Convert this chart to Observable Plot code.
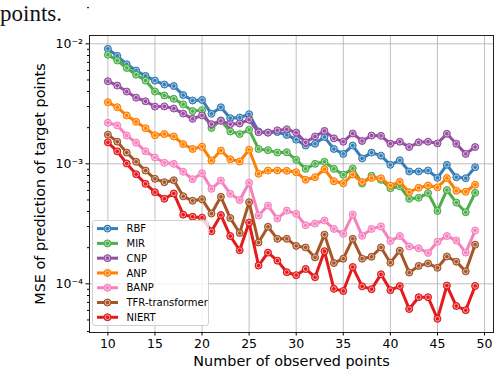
<!DOCTYPE html>
<html>
<head>
<meta charset="utf-8">
<script src="https://cdn.jsdelivr.net/npm/d3@7"></script>
<script src="https://cdn.jsdelivr.net/npm/@observablehq/plot@0.6"></script>
<style>
  html, body { margin: 0; padding: 0; background: #fff; }
  #wrap { position: relative; width: 496px; height: 370px; overflow: hidden; }
  #overlay { position: absolute; left: 0; top: 0; pointer-events: none; }
</style>
</head>
<body>
<div id="wrap"></div>
<script>
// ---- data ----
const observed = [10,11,12,13,14,15,16,17,18,19,20,21,22,23,24,25,26,27,28,29,30,31,32,33,34,35,36,37,38,39,40,41,42,43,44,45,46,47,48,49];

const RBF   = [9.08e-3,7.94e-3,6.75e-3,5.99e-3,5.40e-3,4.94e-3,4.58e-3,4.45e-3,3.74e-3,3.37e-3,3.41e-3,2.61e-3,2.96e-3,2.40e-3,2.43e-3,2.59e-3,1.86e-3,1.82e-3,1.84e-3,1.74e-3,1.59e-3,1.42e-3,1.47e-3,1.67e-3,1.33e-3,1.21e-3,1.42e-3,1.11e-3,1.24e-3,1.17e-3,9.81e-4,1.07e-3,8.63e-4,8.63e-4,8.79e-4,7.64e-4,9.81e-4,7.73e-4,7.59e-4,9.37e-4];
const MIR   = [8.11e-3,7.26e-3,6.29e-3,5.53e-3,4.94e-3,4.00e-3,3.71e-3,3.48e-3,3.13e-3,2.75e-3,2.80e-3,1.99e-3,2.30e-3,1.86e-3,1.77e-3,1.92e-3,1.33e-3,1.30e-3,1.24e-3,1.25e-3,1.08e-3,9.08e-4,1.00e-3,1.04e-3,9.08e-4,8.10e-4,9.14e-4,6.85e-4,7.95e-4,7.35e-4,6.26e-4,6.50e-4,5.11e-4,5.21e-4,5.70e-4,4.05e-4,6.05e-4,4.75e-4,3.95e-4,5.73e-4];
const CNP   = [4.88e-3,4.49e-3,4.00e-3,3.56e-3,3.32e-3,3.00e-3,3.01e-3,2.89e-3,2.62e-3,2.37e-3,2.53e-3,2.14e-3,2.28e-3,2.14e-3,2.17e-3,2.33e-3,1.83e-3,1.82e-3,1.90e-3,1.94e-3,1.82e-3,1.51e-3,1.69e-3,1.88e-3,1.63e-3,1.53e-3,1.79e-3,1.55e-3,1.72e-3,1.71e-3,1.47e-3,1.53e-3,1.38e-3,1.51e-3,1.53e-3,1.48e-3,1.78e-3,1.47e-3,1.21e-3,1.38e-3];
const ANP   = [3.26e-3,2.96e-3,2.53e-3,2.24e-3,1.98e-3,1.73e-3,1.77e-3,1.69e-3,1.46e-3,1.33e-3,1.39e-3,1.065e-3,1.29e-3,1.09e-3,1.045e-3,1.31e-3,8.26e-4,8.79e-4,8.79e-4,8.74e-4,8.51e-4,7.36e-4,7.73e-4,9.01e-4,7.15e-4,6.88e-4,8.15e-4,7.05e-4,7.62e-4,7.57e-4,6.59e-4,7.08e-4,5.80e-4,6.32e-4,6.59e-4,6.37e-4,7.62e-4,5.96e-4,5.85e-4,6.70e-4];
const BANP  = [2.20e-3,2.09e-3,1.72e-3,1.50e-3,1.27e-3,1.13e-3,1.02e-3,1.00e-3,8.59e-4,7.44e-4,8.34e-4,6.19e-4,7.26e-4,5.62e-4,4.99e-4,6.96e-4,3.71e-4,4.49e-4,3.50e-4,4.08e-4,3.83e-4,3.08e-4,3.18e-4,3.37e-4,2.87e-4,2.61e-4,3.79e-4,2.51e-4,2.87e-4,3.01e-4,2.27e-4,2.50e-4,2.05e-4,1.98e-4,1.81e-4,2.24e-4,2.50e-4,2.30e-4,1.82e-4,2.78e-4];
const TFR   = [1.75e-3,1.53e-3,1.24e-3,1.04e-3,8.79e-4,7.50e-4,7.03e-4,7.30e-4,5.36e-4,4.92e-4,5.07e-4,3.85e-4,5.31e-4,3.53e-4,2.65e-4,4.79e-4,2.21e-4,2.99e-4,2.37e-4,2.37e-4,2.07e-4,2.01e-4,1.66e-4,2.57e-4,1.49e-4,1.62e-4,2.37e-4,1.62e-4,1.68e-4,2.01e-4,1.50e-4,1.89e-4,1.24e-4,1.41e-4,1.48e-4,1.36e-4,1.69e-4,1.53e-4,1.27e-4,2.12e-4];
const NIERT = [1.51e-3,1.27e-3,1.006e-3,8.19e-4,6.81e-4,5.80e-4,5.11e-4,5.66e-4,3.77e-4,3.62e-4,3.56e-4,2.74e-4,3.74e-4,2.50e-4,1.905e-4,3.24e-4,1.42e-4,1.82e-4,1.56e-4,1.25e-4,1.18e-4,1.33e-4,1.135e-4,1.87e-4,9.08e-5,8.71e-5,1.38e-4,9.53e-5,9.03e-5,1.20e-4,8.86e-5,9.57e-5,6.17e-5,7.73e-5,7.73e-5,5.11e-5,9.68e-5,6.53e-5,6.03e-5,9.60e-5];

const seriesNames  = ["RBF","MIR","CNP","ANP","BANP","TFR-transformer","NIERT"];
const seriesValues = [RBF, MIR, CNP, ANP, BANP, TFR, NIERT];
const seriesColors = ["#377eb8","#4daf4a","#984ea3","#ff7f00","#f781bf","#a65628","#e41a1c"];

const xTicks = [10,15,20,25,30,35,40,45,50];
const yMajor = [1e-2, 1e-3, 1e-4];
const yMajorLabels = ["10\u207B\u00B2","10\u207B\u00B3","10\u207B\u2074"];
const yMinor = [2e-2, 9e-3,8e-3,7e-3,6e-3,5e-3,4e-3,3e-3,2e-3, 9e-4,8e-4,7e-4,6e-4,5e-4,4e-4,3e-4,2e-4, 9e-5,8e-5,7e-5,6e-5,5e-5,4e-5];

const xLabel = "Number of observed points";
const yLabel = "MSE of prediction of target points";
const headText = "points.";

// ---- chart ----
const W = 496, H = 370;
const font = "DejaVu Sans";

const seriesMarks = [];
seriesNames.forEach((name, i) => {
  const rows = observed.map((x, j) => ({x, y: seriesValues[i][j], name}));
  const c = seriesColors[i];
  seriesMarks.push(
    Plot.line(rows, {x: "x", y: "y", stroke: c, strokeWidth: 3, strokeLinejoin: "round", strokeLinecap: "round"}),
    Plot.dot(rows, {x: "x", y: "y", r: 3.5, fill: c, stroke: c, strokeWidth: 1}),
    Plot.dot(rows, {x: "x", y: "y", r: 2.3, fill: "none", stroke: "white", strokeWidth: 0.8, strokeOpacity: 0.75})
  );
});

const chart = Plot.plot({
  width: W,
  height: H,
  marginLeft: 89,
  marginRight: 3,
  marginTop: 35,
  marginBottom: 38,
  style: {fontFamily: font, fontSize: "12px", color: "black", background: "white", overflow: "visible"},
  x: {domain: [8.05, 50.95]},
  y: {type: "log", domain: [3.93e-5, 0.01173]},
  marks: [
    Plot.gridX(xTicks, {stroke: "#b0b0b0", strokeOpacity: 0.8, strokeWidth: 1}),
    Plot.gridY(yMajor, {stroke: "#b0b0b0", strokeOpacity: 0.8, strokeWidth: 1}),
    ...seriesMarks,
    Plot.frame({stroke: "#222", strokeWidth: 1}),
    Plot.axisX(xTicks, {tickSize: 3.5, tickPadding: 3, fontSize: 12.5, label: null}),
    Plot.axisX({ticks: [], tickSize: 0, fontSize: 14.4, label: xLabel, labelAnchor: "center", labelArrow: "none", labelOffset: 33}),
    Plot.axisY(yMajor, {tickSize: 3.5, tickPadding: 3, fontSize: 12.5, tickFormat: d => yMajorLabels[yMajor.indexOf(d)], label: null}),
    Plot.axisY({ticks: [], tickSize: 0, fontSize: 14.4, label: yLabel, labelAnchor: "center", labelArrow: "none", labelOffset: 55}),
    Plot.axisY(yMinor, {tickSize: 2, tickFormat: () => "", label: null})
  ]
});

const wrap = document.getElementById("wrap");
wrap.appendChild(chart);

// ---- overlay: heading fragment and legend ----
const svg = d3.select(wrap).append("svg")
  .attr("id", "overlay").attr("width", W).attr("height", H)
  .attr("font-family", font);

svg.append("text").attr("x", 0).attr("y", 21)
  .attr("font-family", "Liberation Serif").attr("font-size", 23).attr("fill", "#111")
  .text(headText);

const lg = svg.append("g");
lg.append("rect").attr("x", 92.5).attr("y", 220.5).attr("width", 116).attr("height", 105).attr("rx", 2.5)
  .attr("fill", "white").attr("fill-opacity", 0.8).attr("stroke", "#d0d0d0").attr("stroke-width", 1);
seriesNames.forEach((name, i) => {
  const y = 228.6 + i * 14.78;
  const c = seriesColors[i];
  lg.append("line").attr("x1", 97).attr("x2", 118).attr("y1", y).attr("y2", y)
    .attr("stroke", c).attr("stroke-width", 3);
  lg.append("circle").attr("cx", 107.5).attr("cy", y).attr("r", 3.5).attr("fill", c).attr("stroke", c);
  lg.append("circle").attr("cx", 107.5).attr("cy", y).attr("r", 2.3).attr("fill", "none")
    .attr("stroke", "white").attr("stroke-width", 0.8).attr("stroke-opacity", 0.75);
  lg.append("text").attr("x", 126.5).attr("y", y).attr("dy", "0.36em")
    .attr("font-size", 10).attr("fill", "black")
    .text(name);
});
</script>
</body>
</html>
